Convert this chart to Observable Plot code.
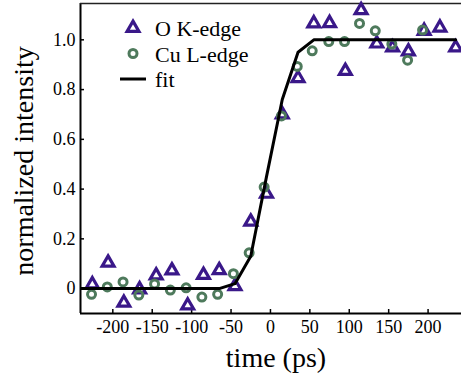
<!DOCTYPE html>
<html>
<head>
<meta charset="utf-8">
<script src="https://cdn.jsdelivr.net/npm/d3@7"></script>
<script src="https://cdn.jsdelivr.net/npm/@observablehq/plot@0.6"></script>
<style>
  html, body { margin: 0; padding: 0; background: white; }
  #chart { width: 461px; height: 379px; }
</style>
</head>
<body>
<div id="chart"></div>
<script>
// ---- data ----
const oTime = [-226, -206, -186, -166, -145, -125, -105, -85, -65, -45, -25, -5, 15, 35, 55, 75, 95, 115, 135, 155, 175, 195, 215, 235];
const oVal  = [0.017, 0.104, -0.057, -0.003, 0.053, 0.073, -0.068, 0.055, 0.074, 0.010, 0.269, 0.381, 0.700, 0.846, 1.066, 1.067, 0.875, 1.119, 0.985, 0.969, 0.953, 1.036, 1.049, 0.969];

const cuTime = [-227, -207, -187, -167, -147, -127, -107, -87, -67, -47, -27, -8, 14, 34, 53, 74, 94, 113, 133, 154, 174, 193];
const cuVal  = [-0.023, 0.007, 0.027, -0.026, 0.019, -0.006, 0.003, -0.034, -0.023, 0.060, 0.144, 0.408, 0.694, 0.893, 0.956, 0.993, 0.993, 1.066, 1.036, 0.983, 0.918, 1.039];

const fitTime = [-245, -225, -205, -185, -165, -145, -125, -105, -85, -65, -45, -25, -5, 15, 35, 55, 75, 95, 115, 135, 155, 175, 195, 215, 235];
const fitVal  = [0, 0, 0, 0, 0, 0, 0, 0, 0, 0, 0.02, 0.13, 0.45, 0.76, 0.95, 1.0, 1.0, 1.0, 1.0, 1.0, 1.0, 1.0, 1.0, 1.0, 1.0];

const xTicks = [-200, -150, -100, -50, 0, 50, 100, 150, 200];
const yTicks = [0, 0.2, 0.4, 0.6, 0.8, 1.0];
const xDomain = [-241, 242.4];
const yDomain = [-0.1, 1.146];

const xLabel = "time (ps)";
const yLabel = "normalized intensity";
const legendNames = ["O K-edge", "Cu L-edge", "fit"];

const cO = "#3a1889";
const cCu = "#4e7a5c";
const serif = "'Liberation Serif', 'Times New Roman', serif";
const rTri = 4.4, rCirc = 4.0;
const swTri = 3.2, swCirc = 3.0;

const chart = Plot.plot({
  width: 461,
  height: 379,
  marginLeft: 80,
  marginRight: 0,
  marginTop: 3,
  marginBottom: 66,
  x: { domain: xDomain },
  y: { domain: yDomain },
  style: { fontFamily: serif, fontSize: "18px", color: "black", background: "white" },
  marks: [
    Plot.axisX(xTicks, { tickSize: -4, tickPadding: 11, tickFormat: d => String(d), strokeWidth: 1.5, fontSize: 18, label: null }),
    Plot.axisY(yTicks, { tickSize: -4, tickPadding: 9, tickFormat: d => d === 0 ? "0" : d.toFixed(1), strokeWidth: 1.5, fontSize: 18, label: null }),
    Plot.ruleX([xDomain[0]], { stroke: "black", strokeWidth: 2 }),
    Plot.ruleY([yDomain[0]], { stroke: "black", strokeWidth: 2 }),
    Plot.ruleY([yDomain[1]], { stroke: "#222", strokeWidth: 1.5 }),
    Plot.dot(oVal, { x: oTime, y: oVal, symbol: "triangle", r: rTri, stroke: cO, strokeWidth: swTri, fill: "none" }),
    Plot.dot(cuVal, { x: cuTime, y: cuVal, symbol: "circle", r: rCirc, stroke: cCu, strokeWidth: swCirc, fill: "none" }),
    Plot.line(fitVal, { x: fitTime, y: fitVal, stroke: "black", strokeWidth: 3, clip: true })
  ]
});

const svg = d3.select(chart);

// axis titles
svg.append("text").attr("x", 276).attr("y", 367)
  .attr("text-anchor", "middle").attr("font-family", serif).attr("font-size", 28)
  .attr("fill", "black").text(xLabel);
svg.append("text").attr("transform", "translate(33,161) rotate(-90)")
  .attr("text-anchor", "middle").attr("font-family", serif).attr("font-size", 28)
  .attr("fill", "black").text(yLabel);

// legend
const lg = svg.append("g").attr("font-family", serif).attr("font-size", 22).attr("text-anchor", "start");
const rows = [
  { name: legendNames[0], kind: "triangle", color: cO, r: rTri, sw: swTri },
  { name: legendNames[1], kind: "circle", color: cCu, r: rCirc, sw: swCirc },
  { name: legendNames[2], kind: "line", color: "black" }
];
rows.forEach((r, i) => {
  const cy = 28 + i * 25.5;
  if (r.kind === "line") {
    lg.append("line").attr("x1", 120).attr("x2", 146).attr("y1", cy).attr("y2", cy)
      .attr("stroke", "black").attr("stroke-width", 3);
  } else {
    const sym = r.kind === "triangle" ? d3.symbolTriangle : d3.symbolCircle;
    lg.append("path").attr("d", d3.symbol(sym, Math.PI * r.r * r.r)()).attr("transform", `translate(133,${cy})`)
      .attr("fill", "none").attr("stroke", r.color).attr("stroke-width", r.sw);
  }
  lg.append("text").attr("x", 155).attr("y", cy + 8).attr("fill", "black").text(r.name);
});

document.getElementById("chart").appendChild(chart);
</script>
</body>
</html>
